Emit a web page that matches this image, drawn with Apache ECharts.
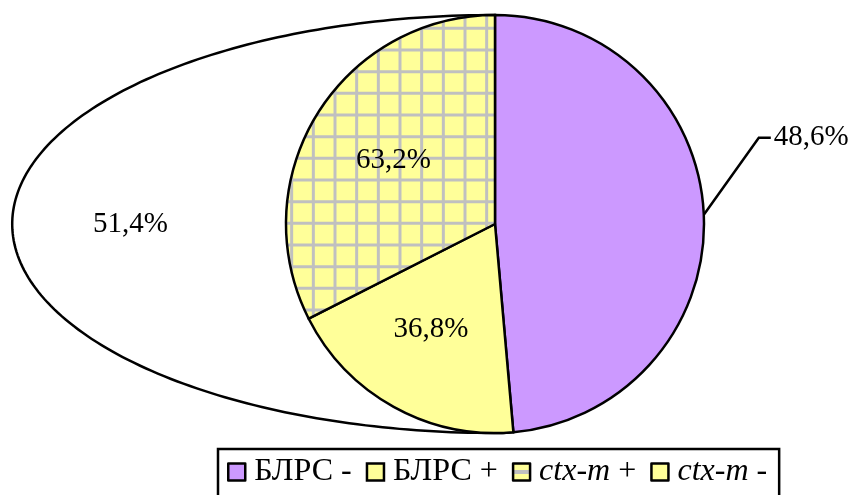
<!DOCTYPE html>
<html>
<head>
<meta charset="utf-8">
<script src="https://cdn.jsdelivr.net/npm/echarts@6/dist/echarts.min.js"></script>
<style>
  html, body { margin: 0; padding: 0; background: #fff; }
  #chart { width: 852px; height: 495px; }
</style>
</head>
<body>
<div id="chart"></div>
<script>
// Main split: beta-lactamase resistance (БЛРС) negative / positive, in %
const mainNames = ['БЛРС -', 'БЛРС +'];
const mainShares = [48.6, 51.4];
// Breakdown of the БЛРС + group by the ctx-m gene, in % of that group
const subNames = ['ctx-m +', 'ctx-m -'];
const subShares = [63.2, 36.8];
// Legend order
const legendNames = ['БЛРС -', 'БЛРС +', 'ctx-m +', 'ctx-m -'];

const FONT = '"Liberation Serif", "Times New Roman", serif';
const PURPLE = '#CC99FF';
const YELLOW = '#FFFF99';
const GRID_GRAY = '#C0C0C0';

const CX = 495, CY = 224, R = 209;   // pie centre and radius
const STRETCH = 2.31;                // horizontal stretch of the БЛРС + backdrop
const LINE_W = 2.5;

const pct = v => v.toFixed(1).replace('.', ',') + '%';

// Yellow fill with a grey grid for the ctx-m + slice
function gridPattern() {
  const size = 65, step = size / 3;
  const c = document.createElement('canvas');
  c.width = size; c.height = size;
  const g = c.getContext('2d');
  g.fillStyle = YELLOW;
  g.fillRect(0, 0, size, size);
  g.strokeStyle = GRID_GRAY;
  g.lineWidth = 3;
  for (let i = 0; i < 3; i++) {
    const x = 10 + i * step;
    g.beginPath(); g.moveTo(x, 0); g.lineTo(x, size); g.stroke();
    const y = 6.7 + i * step;
    g.beginPath(); g.moveTo(0, y); g.lineTo(size, y); g.stroke();
  }
  return c;
}

const subTotal = mainShares[1];
const pieData = [
  { name: mainNames[0], value: mainShares[0], pct: mainShares[0],
    itemStyle: { color: PURPLE },
    label: { position: 'outside' }, labelLine: { show: true } },
  { name: subNames[1], value: subTotal * subShares[1] / 100, pct: subShares[1],
    itemStyle: { color: YELLOW },
    label: { position: 'inside' }, labelLine: { show: false } },
  { name: subNames[0], value: subTotal * subShares[0] / 100, pct: subShares[0],
    itemStyle: { color: { image: gridPattern(), repeat: 'repeat' } },
    label: { position: 'inside' }, labelLine: { show: false } }
];

const legendStyles = {
  'БЛРС -': { color: PURPLE },
  'БЛРС +': { color: YELLOW },
  'ctx-m +': { color: { type: 'linear', x: 0, y: 0, x2: 0, y2: 1, colorStops: [
    { offset: 0, color: YELLOW }, { offset: 0.42, color: YELLOW },
    { offset: 0.42, color: GRID_GRAY }, { offset: 0.6, color: GRID_GRAY },
    { offset: 0.6, color: YELLOW }, { offset: 1, color: YELLOW }] } },
  'ctx-m -': { color: YELLOW }
};

const chart = echarts.init(document.getElementById('chart'), null, { renderer: 'canvas' });

const LEG_FS = 32;
chart.setOption({
  backgroundColor: '#fff',
  animation: false,
  legend: {
    left: 218, top: 449,
    padding: [7, 12, 12, 9],
    borderColor: '#000', borderWidth: 2.5,
    icon: 'rect', itemWidth: 17, itemHeight: 17, itemGap: 14,
    selectedMode: false,
    itemStyle: { borderColor: '#000', borderWidth: 2.5 },
    textStyle: { fontFamily: FONT, fontSize: LEG_FS, color: '#000', padding: [0, 0, 0, 4],
      rich: { i: { fontFamily: FONT, fontSize: LEG_FS, fontStyle: 'italic', color: '#000' },
              n: { fontFamily: FONT, fontSize: LEG_FS, color: '#000' } } },
    formatter: name => name.startsWith('ctx-m')
      ? '{i|ctx-m}{n|' + name.slice(5) + '}' : name,
    data: legendNames.map(n => ({ name: n, itemStyle: legendStyles[n] }))
  },
  series: [
    {
      // Stretched backdrop standing for the whole БЛРС + share
      type: 'custom',
      name: mainNames[1],
      coordinateSystem: 'none',
      z: 1,
      silent: true,
      data: [[mainShares[1]]],
      renderItem: function (params, api) {
        const share = api.value(0);
        const start = (100 - share) / 100 * 2 * Math.PI;
        const pts = [[CX, CY]];
        const n = 180;
        for (let i = 0; i <= n; i++) {
          const t = start + (2 * Math.PI - start) * i / n;
          const s = Math.sin(t);
          pts.push([CX + R * s * (s < 0 ? STRETCH : 1), CY - R * Math.cos(t)]);
        }
        return {
          type: 'group',
          children: [
            { type: 'polygon', shape: { points: pts },
              style: { fill: '#fff', stroke: '#000', lineWidth: LINE_W } },
            { type: 'text', x: CX - STRETCH * R * 0.755, y: CY,
              style: { text: pct(share), fontFamily: FONT, fontSize: 29,
                       fill: '#000', align: 'center', verticalAlign: 'middle' } }
          ]
        };
      }
    },
    {
      type: 'pie',
      name: 'БЛРС',
      z: 2,
      center: [CX, CY],
      radius: R,
      startAngle: 90,
      clockwise: true,
      avoidLabelOverlap: false,
      silent: true,
      itemStyle: { borderColor: '#000', borderWidth: LINE_W },
      label: {
        formatter: p => pct(p.data.pct),
        fontFamily: FONT, fontSize: 29, color: '#000'
      },
      labelLine: { lineStyle: { color: '#000', width: LINE_W } },
      labelLayout: function (params) {
        if (params.dataIndex === 0 && params.labelLinePoints) {
          const a = params.labelLinePoints[0];
          const bend = [a[0] + 55, a[1] - 77];
          const end = [bend[0] + 12, bend[1]];
          return {
            x: end[0] + 3, y: bend[1],
            align: 'left', verticalAlign: 'middle',
            labelLinePoints: [a, bend, end]
          };
        }
        if (params.dataIndex === 1) return { dx: -12, dy: 11 };
        if (params.dataIndex === 2) return { dx: -10, dy: -7 };
        return {};
      },
      data: pieData
    }
  ]
});
</script>
</body>
</html>
